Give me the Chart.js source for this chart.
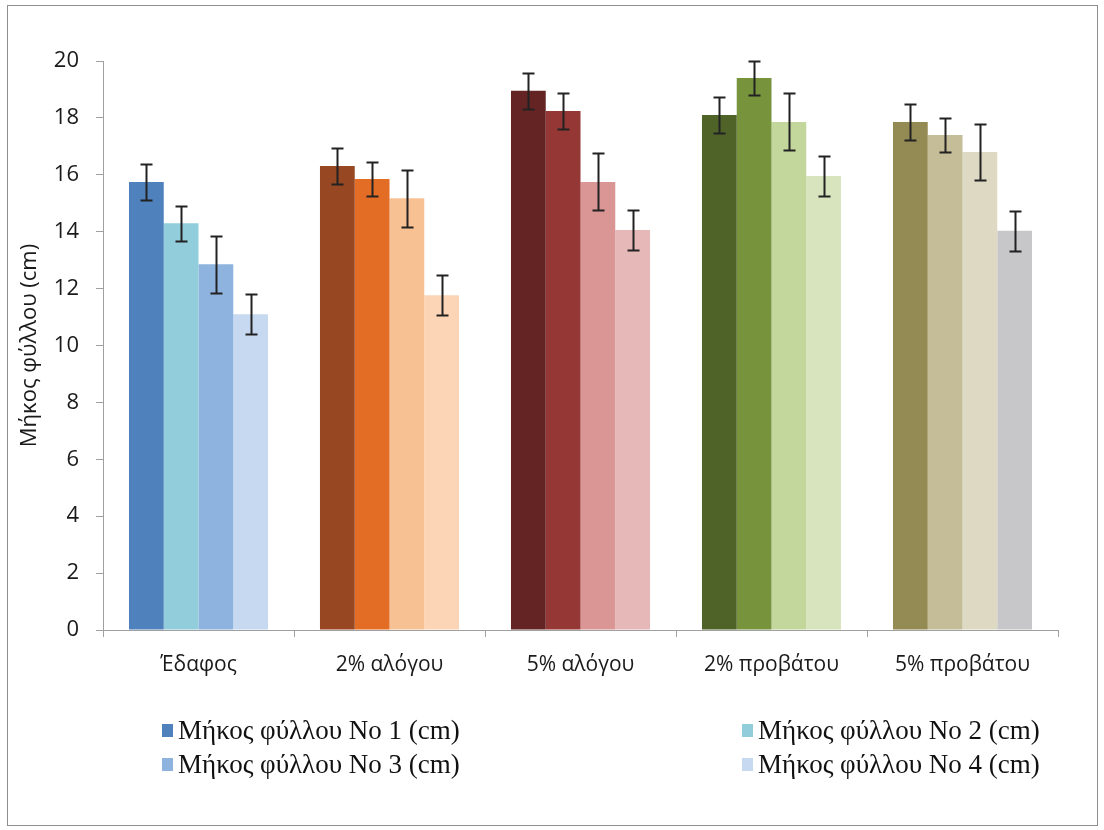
<!DOCTYPE html>
<html>
<head>
<meta charset="utf-8">
<script src="https://cdn.jsdelivr.net/npm/chart.js@4/dist/chart.umd.min.js"></script>
<style>
  body { margin: 0; background: #fff; }
  #wrap { position: relative; width: 1104px; height: 830px; }
  #frame { position: absolute; left: 7px; top: 5px; width: 1089px; height: 819px; border: 1px solid #8e8e8e; }
  #chart1 { position: absolute; left: 0; top: 0; }
  #legend { position: absolute; left: 0; top: 0; width: 1104px; height: 830px; pointer-events: none;
            font-family: "Liberation Serif", "DejaVu Serif", serif; font-size: 27px; color: #111; }
  .item { position: absolute; display: flex; align-items: center; white-space: nowrap; }
  .box { width: 11px; height: 13px; margin-right: 5px; }
</style>
</head>
<body>
<div id="wrap">
  <div id="frame"></div>
  <canvas id="chart1" width="1104" height="830"></canvas>
  <div id="legend"></div>
</div>
<script>
const categories = ['Έδαφος', '2% αλόγου', '5% αλόγου', '2% προβάτου', '5% προβάτου'];
const seriesLabels = ['Μήκος φύλλου No 1 (cm)', 'Μήκος φύλλου No 2 (cm)', 'Μήκος φύλλου No 3 (cm)', 'Μήκος φύλλου No 4 (cm)'];

const leaf1 = [15.75, 16.31, 18.95, 18.10, 17.86];
const leaf2 = [14.30, 15.85, 18.24, 19.40, 17.40];
const leaf3 = [12.86, 15.18, 15.75, 17.86, 16.80];
const leaf4 = [11.10, 11.77, 14.06, 15.96, 14.03];

const err1 = [0.64, 0.63, 0.64, 0.63, 0.64];
const err2 = [0.62, 0.60, 0.62, 0.60, 0.60];
const err3 = [1.00, 1.00, 1.00, 1.00, 1.00];
const err4 = [0.71, 0.70, 0.70, 0.70, 0.70];

// each category has its own colour family
const colors1 = ['#4F81BD', '#974822', '#632423', '#4F6228', '#948A54'];
const colors2 = ['#92CDDC', '#E46D25', '#953735', '#77933C', '#C4BD97'];
const colors3 = ['#8EB3DF', '#F8C193', '#D99694', '#C3D69B', '#DDD9C3'];
const colors4 = ['#C6D9F0', '#FBD5B5', '#E6B9B8', '#D7E4BD', '#C7C7C9'];

const yTicks = [0, 2, 4, 6, 8, 10, 12, 14, 16, 18, 20];

const values = [leaf1, leaf2, leaf3, leaf4];
const errors = [err1, err2, err3, err4];
const colors = [colors1, colors2, colors3, colors4];

const errorBars = {
    id: 'errorBars',
    afterDatasetsDraw(chart) {
        const ctx = chart.ctx;
        const y = chart.scales.y;
        ctx.save();
        ctx.strokeStyle = '#222';
        ctx.lineWidth = 2;
        chart.data.datasets.forEach((ds, i) => {
            const meta = chart.getDatasetMeta(i);
            meta.data.forEach((bar, j) => {
                const v = ds.data[j];
                const e = ds.errors[j];
                const top = Math.round(y.getPixelForValue(v + e)) + 0.5;
                const bot = Math.round(y.getPixelForValue(v - e)) + 0.5;
                const x = Math.round(bar.x) + 0.5;
                ctx.beginPath();
                ctx.moveTo(x, top); ctx.lineTo(x, bot);
                ctx.moveTo(x - 6, top); ctx.lineTo(x + 6, top);
                ctx.moveTo(x - 6, bot); ctx.lineTo(x + 6, bot);
                ctx.stroke();
            });
        });
        ctx.restore();
    }
};

new Chart(document.getElementById('chart1'), {
    type: 'bar',
    data: {
        labels: categories,
        datasets: values.map((vals, i) => ({
            label: seriesLabels[i],
            data: vals,
            errors: errors[i],
            backgroundColor: colors[i],
            borderWidth: 0
        }))
    },
    options: {
        responsive: false,
        animation: false,
        events: [],
        categoryPercentage: 0.728,
        barPercentage: 1,
        layout: { padding: { left: 8, right: 46, top: 61, bottom: 140 } },
        plugins: {
            legend: { display: false },
            tooltip: { enabled: false }
        },
        scales: {
            x: {
                grid: { offset: true, drawOnChartArea: false, drawTicks: true, tickLength: 7, color: '#a0a0a0' },
                border: { color: '#a0a0a0', width: 1 },
                ticks: { color: '#1a1a1a', font: { family: '"Open Sans", sans-serif', size: 21 }, padding: 15 },
                afterFit(scale) { scale.height = 60; }
            },
            y: {
                min: 0,
                max: 20,
                afterBuildTicks(scale) { scale.ticks = yTicks.map(v => ({ value: v })); },
                grid: { drawOnChartArea: false, drawTicks: true, tickLength: 7, color: '#a0a0a0' },
                border: { color: '#a0a0a0', width: 1 },
                ticks: { color: '#1a1a1a', font: { family: '"Open Sans", sans-serif', size: 22 }, padding: 17 },
                title: {
                    display: true,
                    text: 'Μήκος φύλλου (cm)',
                    color: '#1a1a1a',
                    font: { family: '"Open Sans", sans-serif', size: 22 },
                    padding: { top: 9, bottom: 0 }
                },
                afterFit(scale) { scale.width = 95; }
            }
        }
    },
    plugins: [errorBars]
});

// legend in two columns, swatches use the first category's colours
const legendPos = [[162, 715], [742, 715], [162, 749], [742, 749]];
const legend = document.getElementById('legend');
seriesLabels.forEach((label, i) => {
    const item = document.createElement('div');
    item.className = 'item';
    item.style.left = legendPos[i][0] + 'px';
    item.style.top = legendPos[i][1] + 'px';
    const box = document.createElement('span');
    box.className = 'box';
    box.style.background = colors[i][0];
    const txt = document.createElement('span');
    txt.textContent = label;
    item.appendChild(box);
    item.appendChild(txt);
    legend.appendChild(item);
});
</script>
</body>
</html>
